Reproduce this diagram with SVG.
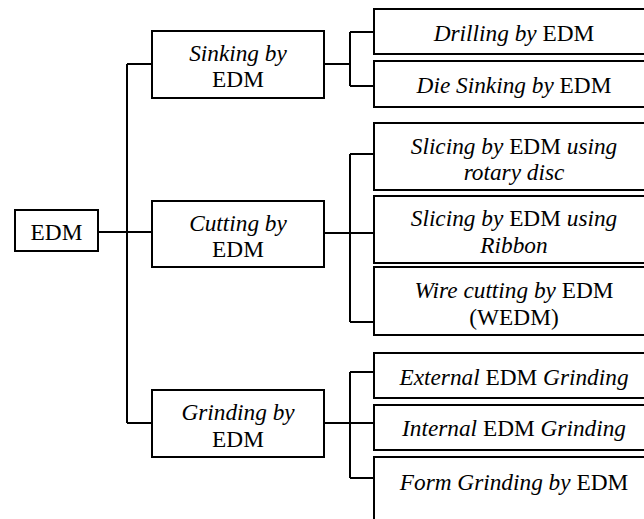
<svg xmlns="http://www.w3.org/2000/svg" width="644" height="519" viewBox="0 0 644 519">
<style>
.box{fill:#ffffff;stroke:#000000;stroke-width:2}
.ln{fill:none;stroke:#000000;stroke-width:2}
.t{font-family:'Liberation Serif','Times New Roman','DejaVu Serif','Noto Serif',serif;font-size:23.3px;fill:#000000;text-anchor:middle}
.i{font-style:italic}
</style>
<rect x="0" y="0" width="644" height="519" fill="#ffffff"/>
<g id="connectors">
<path class="ln" d="M98,232 H152"/>
<path class="ln" d="M127,64 V423"/>
<path class="ln" d="M127,64 H152"/>
<path class="ln" d="M127,423 H152"/>
<path class="ln" d="M324,64 H350"/>
<path class="ln" d="M350,32 V86"/>
<path class="ln" d="M350,32 H374"/>
<path class="ln" d="M350,86 H374"/>
<path class="ln" d="M324,233 H374"/>
<path class="ln" d="M350,154 V322"/>
<path class="ln" d="M350,154 H374"/>
<path class="ln" d="M350,322 H374"/>
<path class="ln" d="M324,423 H374"/>
<path class="ln" d="M350,372 V478"/>
<path class="ln" d="M350,372 H374"/>
<path class="ln" d="M350,478 H374"/>
</g>
<g id="edm">
<rect class="box" x="15" y="210" width="83" height="41"/>
<text class="t" x="56.5" y="239.5">EDM</text>
</g>
<g id="sinking">
<rect class="box" x="152" y="31" width="172" height="67"/>
<text class="t" x="238" y="60.5"><tspan class="i">Sinking by</tspan></text>
<text class="t" x="238" y="86.5">EDM</text>
</g>
<g id="cutting">
<rect class="box" x="152" y="201" width="172" height="66"/>
<text class="t" x="238" y="230.5"><tspan class="i">Cutting by</tspan></text>
<text class="t" x="238" y="257">EDM</text>
</g>
<g id="grinding">
<rect class="box" x="152" y="390" width="172" height="67"/>
<text class="t" x="238" y="420"><tspan class="i">Grinding by</tspan></text>
<text class="t" x="238" y="446.5">EDM</text>
</g>
<g id="drilling">
<rect class="box" x="374" y="9" width="290" height="45"/>
<text class="t" x="514" y="41"><tspan class="i">Drilling by</tspan> EDM</text>
</g>
<g id="die-sinking">
<rect class="box" x="374" y="61" width="290" height="46"/>
<text class="t" x="514" y="92.5"><tspan class="i">Die Sinking by</tspan> EDM</text>
</g>
<g id="slicing-disc">
<rect class="box" x="374" y="123" width="290" height="67"/>
<text class="t" x="514" y="153.5"><tspan class="i">Slicing by</tspan> EDM <tspan class="i">using</tspan></text>
<text class="t" x="514" y="180"><tspan class="i">rotary disc</tspan></text>
</g>
<g id="slicing-ribbon">
<rect class="box" x="374" y="196" width="290" height="67"/>
<text class="t" x="514" y="226"><tspan class="i">Slicing by</tspan> EDM <tspan class="i">using</tspan></text>
<text class="t" x="514" y="252.5"><tspan class="i">Ribbon</tspan></text>
</g>
<g id="wire-cutting">
<rect class="box" x="374" y="267" width="290" height="68"/>
<text class="t" x="514" y="297.5"><tspan class="i">Wire cutting by</tspan> EDM</text>
<text class="t" x="514" y="324.5">(WEDM)</text>
</g>
<g id="external">
<rect class="box" x="374" y="353" width="290" height="45"/>
<text class="t" x="514" y="385"><tspan class="i">External</tspan> EDM <tspan class="i">Grinding</tspan></text>
</g>
<g id="internal">
<rect class="box" x="374" y="405" width="290" height="45"/>
<text class="t" x="514" y="436"><tspan class="i">Internal</tspan> EDM <tspan class="i">Grinding</tspan></text>
</g>
<g id="form">
<rect class="box" x="374" y="457" width="290" height="80"/>
<text class="t" x="514" y="490"><tspan class="i">Form Grinding by</tspan> EDM</text>
</g>
</svg>
